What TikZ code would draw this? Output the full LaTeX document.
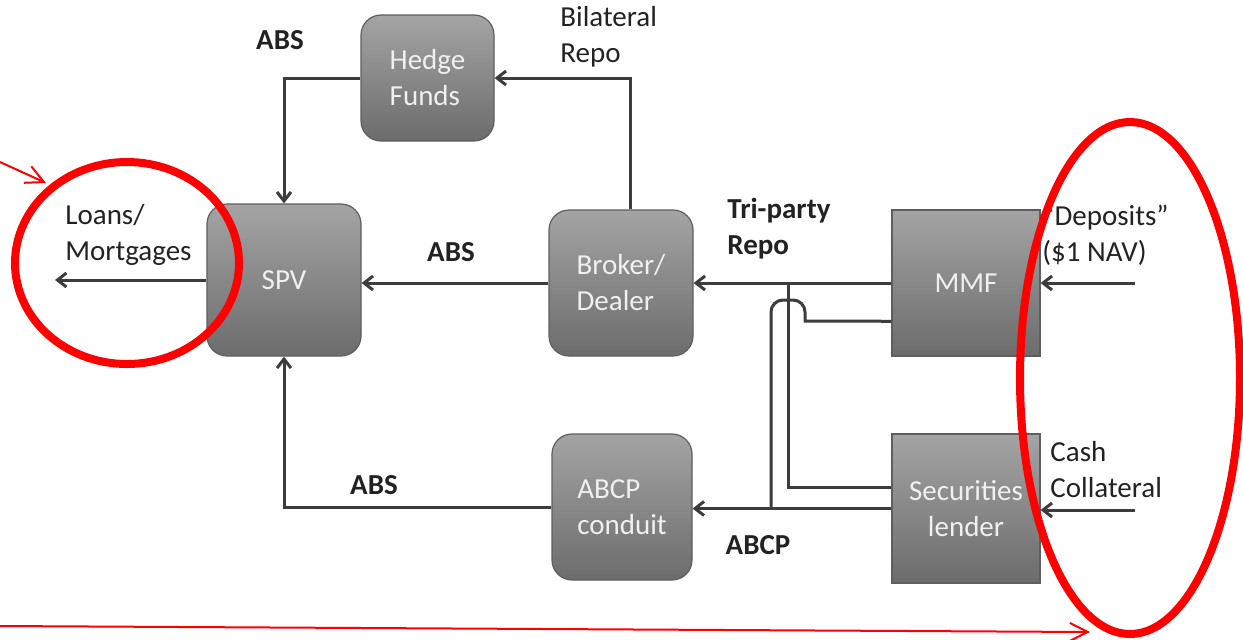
\documentclass[tikz,border=0pt]{standalone}
\usepackage{fontspec}
\setmainfont{Carlito}
\usepackage{xcolor}
\usetikzlibrary{arrows.meta,calc}

\definecolor{boxtop}{HTML}{A4A4A4}
\definecolor{boxbot}{HTML}{6C6C6C}
\definecolor{boxrim}{HTML}{5E5E5E}
\definecolor{wire}{HTML}{3C3C3C}
\definecolor{ink}{HTML}{222222}

\begin{document}
\begin{tikzpicture}[x=0.5pt, y=-0.5pt,
  inst/.style={draw=boxrim, line width=0.6pt, top color=boxtop, bottom color=boxbot,
    text=white!94!black, align=center, inner sep=0pt, font=\fontsize{14.5}{18}\selectfont},
  lbl/.style={text=ink, align=left, inner sep=0pt, font=\fontsize{14.5}{18}\selectfont},
  blbl/.style={lbl, font=\fontsize{14.5}{18}\selectfont\bfseries},
  flow/.style={draw=wire, line width=1.5pt, -{Straight Barb[length=4.5pt,width=7pt]}},
  link/.style={draw=wire, line width=1.5pt},
  redring/.style={draw=red, line width=4pt},
  pointer/.style={draw=red, line width=1pt, -{Straight Barb[length=9pt,width=9pt]}}]

\useasboundingbox (0,0) rectangle (1243,639);

% institutions
\node[inst, align=left, rounded corners=10pt, minimum width=66.5pt, minimum height=63pt] (hedge) at (427.5,78) {Hedge\\Funds};
\node[inst, rounded corners=10pt, minimum width=77pt, minimum height=76pt] (spv) at (284,280) {SPV};
\node[inst, align=left, rounded corners=10pt, minimum width=72pt, minimum height=73pt] (broker) at (621,283) {Broker/\\Dealer};
\node[inst, minimum width=74pt, minimum height=73pt] (mmf) at (966,283) {MMF};
\node[inst, minimum width=74pt, minimum height=74.5pt] (sec) at (966,508.5) {Securities\\lender};
\node[inst, align=left, rounded corners=10pt, minimum width=70pt, minimum height=73pt] (abcp) at (622,507) {ABCP\\conduit};

% free ends
\coordinate (loans) at (55,280);
\coordinate (deposits) at (1135,283);
\coordinate (cash) at (1135,510);
\coordinate (tap) at (788,283);
\coordinate (drop) at (771,508);

% labels
\node[blbl] (absTop) at (280,40) {ABS};
\node[blbl] (absMid) at (451,252) {ABS};
\node[blbl] (absLow) at (374,485) {ABS};
\node[blbl] (abcpLbl) at (758,545) {ABCP};
\node[lbl, anchor=west] (bilat) at (560,37) {Bilateral\\Repo};
\node[blbl, anchor=west] (triparty) at (727,229) {Tri-party\\Repo};
\node[lbl, anchor=west] (loansLbl) at (65,235) {Loans/\\Mortgages};
\node[lbl, anchor=west] (depLbl) at (1042,235) {“Deposits”\\(\$1 NAV)};
\node[lbl, anchor=west] (cashLbl) at (1050,470) {Cash\\Collateral};

% flows
\draw[flow] (spv.west) -- (loans);
\draw[flow] (broker.west) -- (broker.west -| spv.east);
\draw[flow] (mmf.west) -- (mmf.west -| broker.east);
\draw[flow] ([xshift=4.5pt]broker.north) |- (hedge.east);
\draw[flow] (hedge.west) -| (spv.north);
\draw[flow] (abcp.west) -| (spv.south);
\draw[flow] (sec.west) -- (sec.west -| abcp.east);
\draw[flow] (deposits) -- (mmf.east);
\draw[flow] (cash) -- (cash -| sec.east);

% collateral links
\draw[link] (tap) |- ($(sec.north west)!0.36!(sec.south west)$);
\draw[link] ($(mmf.north west)!0.76!(mmf.south west)$) -- (805,321)
  [rounded corners=6pt] -- (805,300) -- (771,300) [sharp corners] -- (drop);

% red marks
\draw[redring] (127,263) ellipse [x radius=56pt, y radius=50.5pt];
\draw[redring] (1130,378) ellipse [x radius=55pt, y radius=128pt];
\draw[pointer] (0,162) -- (46,183);
\draw[pointer] (0,626) -- (1090,632);
\end{tikzpicture}
\end{document}
